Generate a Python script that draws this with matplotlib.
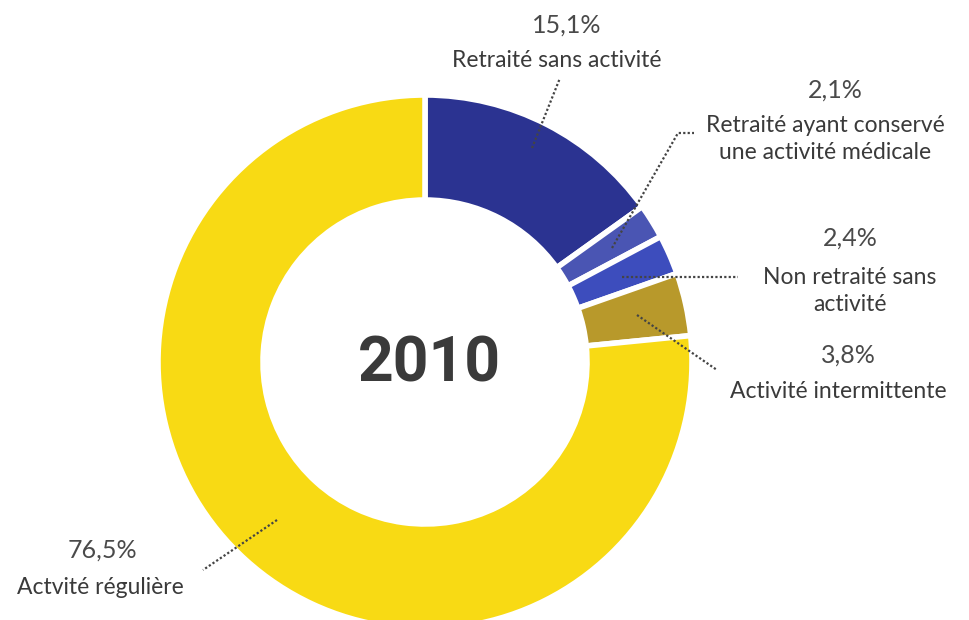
import matplotlib.pyplot as plt

# répartition des médecins inscrits, 2010
categories = ["Retraité sans activité",
              "Retraité ayant conservé\nune activité médicale",
              "Non retraité sans\nactivité",
              "Activité intermittente",
              "Actvité régulière"]
values = [15.1, 2.1, 2.4, 3.8, 76.5]
pct_labels = ["15,1%", "2,1%", "2,4%", "3,8%", "76,5%"]
slice_colors = ["#2b3391", "#4a55b3", "#3d4dbd", "#b8992b", "#f8da14"]

H = 620  # figure height in px, texts placed in pixel coords (top-down)

fig = plt.figure(figsize=(9.7, 6.2), dpi=100)
ax = fig.add_axes([0, 0, 1, 1])

ax.pie(values, colors=slice_colors, startangle=90, counterclock=False,
       center=(425, H - 362), radius=267,
       wedgeprops=dict(width=105, edgecolor="white", linewidth=4))

# pie() resets the limits, so set them afterwards
ax.set_xlim(0, 970)
ax.set_ylim(0, H)
ax.set_aspect("equal")
ax.axis("off")

ax.text(429, H - 365, "2010", ha="center", va="center", fontsize=45,
        fontweight="bold", family="Roboto", color="#3a3a3a")

cat_style = dict(ha="center", va="center", fontsize=16.5, family="Lato",
                 color="#3a3a3a", linespacing=1.3)
pct_style = dict(ha="center", va="center", fontsize=18, family="Lato",
                 color="#4a4a4a")

# (x pct, y pct, x label, y label)
label_pos = [(567, 25, 557, 60),
             (835, 90, 825, 139),
             (850, 238, 850, 291),
             (848, 355, 838, 391),
             (102, 550, 100, 588)]
for pct, cat, (xp, yp, xl, yl) in zip(pct_labels, categories, label_pos):
    ax.text(xp, H - yp, pct, **pct_style)
    ax.text(xl, H - yl, cat, **cat_style)

# lignes de rappel pointillées
leaders = [[(532, 148), (560, 78)],
           [(612, 248), (678, 133), (694, 133)],
           [(622, 277), (738, 277)],
           [(637, 315), (717, 370)],
           [(277, 520), (203, 570)]]
for pts in leaders:
    xs = [p[0] for p in pts]
    ys = [H - p[1] for p in pts]
    ax.plot(xs, ys, color="#444444", linestyle=(0, (1, 1)), linewidth=1.6)

fig.savefig("out.png", dpi=100)
